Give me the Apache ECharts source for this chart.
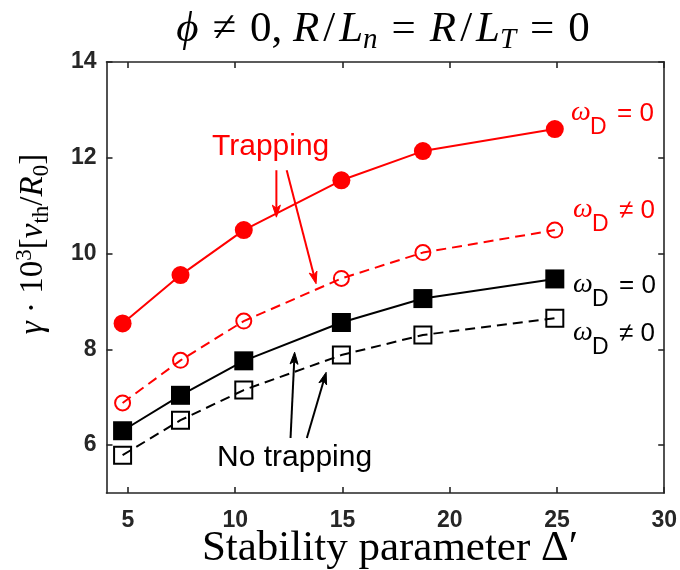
<!DOCTYPE html>
<html>
<head>
<meta charset="utf-8">
<script src="https://cdn.jsdelivr.net/npm/echarts@6/dist/echarts.min.js"></script>
<style>
  html, body { margin: 0; padding: 0; background: #ffffff; }
  #chart { width: 680px; height: 570px; }
</style>
</head>
<body>
<div id="chart"></div>
<script>
// Growth rate versus stability parameter for the four cases
const deltaPrime = [4.75, 7.45, 10.4, 14.95, 18.75, 24.9];
const trappingOmegaZero = [8.54, 9.55, 10.49, 11.53, 12.14, 12.6];
const trappingOmegaNonzero = [6.88, 7.77, 8.59, 9.48, 10.02, 10.49];
const noTrappingOmegaZero = [6.3, 7.04, 7.76, 8.56, 9.06, 9.47];
const noTrappingOmegaNonzero = [5.79, 6.52, 7.15, 7.88, 8.3, 8.65];

const xTicks = [5, 10, 15, 20, 25, 30];
const yTicks = [6, 8, 10, 12, 14];

// Annotation arrows, [start, tip] in data units
const trappingArrows = [
  [[11.92, 11.74], [11.92, 10.76]],
  [[12.40, 11.74], [13.77, 9.37]]
];
const noTrappingArrows = [
  [[12.58, 6.15], [12.77, 7.94]],
  [[13.34, 6.15], [14.24, 7.52]]
];

const RED = '#ff0000';
const AXIS = '#262626';
const SERIF = '"Liberation Serif", "DejaVu Serif", serif';
const SANS = '"Liberation Sans", Arial, Helvetica, sans-serif';

const pairs = ys => deltaPrime.map((x, i) => [x, ys[i]]);

const chart = echarts.init(document.getElementById('chart'), null, { renderer: 'canvas' });

const axisLine = { show: true, lineStyle: { color: AXIS, width: 1.6 } };
const tick = vals => ({ show: true, inside: true, length: 6, customValues: vals, lineStyle: { color: AXIS, width: 1.6 } });
const tickLabel = (vals, margin) => ({
  show: true, customValues: vals, margin: margin,
  fontFamily: SANS, fontWeight: 'bold', fontSize: 23, color: AXIS
});

chart.setOption({
  animation: false,
  backgroundColor: '#ffffff',
  grid: { left: 106.5, right: 14.5, top: 62, bottom: 77, containLabel: false },
  xAxis: [
    { type: 'value', min: 4, max: 30, position: 'bottom',
      axisLine: axisLine, axisTick: tick(xTicks), axisLabel: tickLabel(xTicks, 16),
      splitLine: { show: false } },
    { type: 'value', min: 4, max: 30, position: 'top',
      axisLine: axisLine, axisTick: tick(xTicks), axisLabel: { show: false },
      splitLine: { show: false } }
  ],
  yAxis: [
    { type: 'value', min: 5, max: 14, position: 'left',
      axisLine: axisLine, axisTick: tick(yTicks), axisLabel: tickLabel(yTicks, 10),
      splitLine: { show: false } },
    { type: 'value', min: 5, max: 14, position: 'right',
      axisLine: axisLine, axisTick: tick(yTicks), axisLabel: { show: false },
      splitLine: { show: false } }
  ],
  series: [
    { name: 'trapping, wD = 0', type: 'line', data: pairs(trappingOmegaZero),
      symbol: 'circle', symbolSize: 18,
      itemStyle: { color: RED },
      lineStyle: { color: RED, width: 2 },
      emphasis: { disabled: true }, silent: true, z: 4 },
    { name: 'trapping, wD != 0', type: 'line', data: pairs(trappingOmegaNonzero),
      symbol: 'circle', symbolSize: 15,
      itemStyle: { color: 'rgba(0,0,0,0)', borderColor: RED, borderWidth: 2 },
      lineStyle: { color: RED, width: 2, type: [10, 6] },
      emphasis: { disabled: true }, silent: true, z: 3 },
    { name: 'no trapping, wD = 0', type: 'line', data: pairs(noTrappingOmegaZero),
      symbol: 'rect', symbolSize: 19,
      itemStyle: { color: '#000000' },
      lineStyle: { color: '#000000', width: 2 },
      emphasis: { disabled: true }, silent: true, z: 4 },
    { name: 'no trapping, wD != 0', type: 'line', data: pairs(noTrappingOmegaNonzero),
      symbol: 'rect', symbolSize: 17,
      itemStyle: { color: 'rgba(0,0,0,0)', borderColor: '#000000', borderWidth: 2 },
      lineStyle: { color: '#000000', width: 2, type: [10, 6] },
      emphasis: { disabled: true }, silent: true, z: 3 }
  ]
});

// ---- texts and arrows ----
const graphics = [];

// Title (math-style spacing around relations and slashes)
graphics.push({
  type: 'text', x: 383, y: 30, silent: true,
  style: {
    text: '{i|ϕ}{op|≠}0, {i|R}{sl|/}{i|L}{s|n}{op|=}{i|R}{sl|/}{i|L}{s|T}{op|=}0',
    align: 'center', verticalAlign: 'middle',
    font: '43px ' + SERIF, fill: '#000',
    rich: {
      i: { fontFamily: SERIF, fontSize: 43, fontStyle: 'italic', lineHeight: 50 },
      op: { fontFamily: SERIF, fontSize: 43, lineHeight: 50, padding: [0, 14, 0, 14] },
      sl: { fontFamily: SERIF, fontSize: 43, lineHeight: 50, padding: [0, 4, 0, 4] },
      s: { fontFamily: SERIF, fontSize: 29, fontStyle: 'italic', lineHeight: 32, verticalAlign: 'bottom' }
    },
    lineHeight: 50
  }
});

// X axis title
graphics.push({
  type: 'text', x: 390, y: 549, silent: true,
  style: {
    text: 'Stability parameter Δ′',
    align: 'center', verticalAlign: 'middle',
    font: '43px ' + SERIF, fill: '#000'
  }
});

// Y axis title
graphics.push({
  type: 'text', x: 33, y: 244, rotation: Math.PI / 2, silent: true,
  style: {
    text: '{i|γ} · 10{p|3}[{i|v}{b|th}/{i|R}{b|0}]',
    align: 'center', verticalAlign: 'middle',
    font: '33px ' + SERIF, fill: '#000', lineHeight: 40,
    rich: {
      i: { fontFamily: SERIF, fontSize: 33, fontStyle: 'italic', lineHeight: 40 },
      p: { fontFamily: SERIF, fontSize: 23, lineHeight: 26, verticalAlign: 'top' },
      b: { fontFamily: SERIF, fontSize: 23, lineHeight: 26, verticalAlign: 'bottom' }
    }
  }
});

// Annotation words
graphics.push({
  type: 'text', x: 212, y: 147, silent: true,
  style: { text: 'Trapping', font: '30px ' + SANS, fill: RED, align: 'left', verticalAlign: 'middle' }
});
graphics.push({
  type: 'text', x: 217, y: 458, silent: true,
  style: { text: 'No trapping', font: '30px ' + SANS, fill: '#000', align: 'left', verticalAlign: 'middle' }
});

// Curve labels  omega_D = 0 / omega_D != 0
function omegaLabel(x, y, rel, color) {
  return {
    type: 'group', x: x, y: y, silent: true,
    children: [
      { type: 'text', x: 0, y: 0,
        style: { text: 'ω', font: 'italic 28px ' + SERIF, fill: color, align: 'left', verticalAlign: 'middle' } },
      { type: 'text', x: 19, y: 15,
        style: { text: 'D', font: '23px ' + SANS, fill: color, align: 'left', verticalAlign: 'middle' } },
      { type: 'text', x: 46, y: 1,
        style: { text: rel + ' 0', font: '26px ' + SANS, fill: color, align: 'left', verticalAlign: 'middle' } }
    ]
  };
}
graphics.push(omegaLabel(571, 113, '=', RED));
graphics.push(omegaLabel(573, 210, '≠', RED));
graphics.push(omegaLabel(573, 285, '=', '#000'));
graphics.push(omegaLabel(573, 333, '≠', '#000'));

// Arrows drawn from data-space anchors
function arrow(seg, color) {
  const p0 = chart.convertToPixel({ gridIndex: 0 }, seg[0]);
  const p1 = chart.convertToPixel({ gridIndex: 0 }, seg[1]);
  const dx = p1[0] - p0[0], dy = p1[1] - p0[1];
  const len = Math.sqrt(dx * dx + dy * dy);
  const ux = dx / len, uy = dy / len;
  const nx = -uy, ny = ux;
  const L = 12, W = 4, notch = 9;
  const back = [p1[0] - ux * L, p1[1] - uy * L];
  const mid = [p1[0] - ux * notch, p1[1] - uy * notch];
  return [
    { type: 'line', silent: true,
      shape: { x1: p0[0], y1: p0[1], x2: mid[0], y2: mid[1] },
      style: { stroke: color, lineWidth: 2 } },
    { type: 'polygon', silent: true,
      shape: { points: [p1, [back[0] + nx * W, back[1] + ny * W], mid, [back[0] - nx * W, back[1] - ny * W]] },
      style: { fill: color, stroke: color, lineWidth: 1 } }
  ];
}
trappingArrows.forEach(seg => graphics.push(...arrow(seg, RED)));
noTrappingArrows.forEach(seg => graphics.push(...arrow(seg, '#000')));

chart.setOption({ graphic: graphics });
</script>
</body>
</html>
